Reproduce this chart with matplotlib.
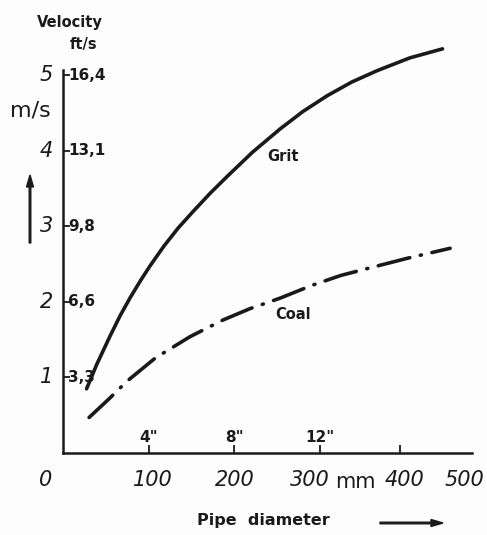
import matplotlib
matplotlib.use("Agg")
import matplotlib.pyplot as plt
from matplotlib.transforms import blended_transform_factory

# pipe diameter (mm) and velocity (m/s)
grit_d = [28, 40, 56, 68, 80, 92, 103, 120, 137, 154, 175, 195, 225, 258, 285, 314, 343, 373, 412, 451]
grit_v = [0.85, 1.17, 1.55, 1.82, 2.06, 2.28, 2.47, 2.74, 2.98, 3.19, 3.44, 3.66, 3.98, 4.29, 4.52, 4.73, 4.91, 5.06, 5.23, 5.35]
coal_d = [31, 55, 76, 110, 151, 190, 222, 258, 296, 330, 368, 410, 460]
coal_v = [0.47, 0.72, 0.95, 1.26, 1.54, 1.76, 1.91, 2.05, 2.22, 2.35, 2.46, 2.58, 2.71]

ms_ticks = [1, 2, 3, 4, 5]
fts_labels = ["3,3", "6,6", "9,8", "13,1", "16,4"]
inch_pos = [101.6, 203.2, 304.8]
inch_labels = ['4"', '8"', '12"']
mm_pos = [-21, 107, 204, 293, 406, 477]
mm_labels = ["0", "100", "200", "300", "400", "500"]

hand = ["Liberation Sans Narrow", "DejaVu Sans"]
ink = "#1a1a1a"

fig = plt.figure(figsize=(4.87, 5.35), dpi=100, facecolor="#fdfdfd")
ax = fig.add_axes([63 / 487, 1 - 453 / 535, (472 - 63) / 487, (453 - 70) / 535])
ax.set_facecolor("#fdfdfd")
ax.set_xlim(0, 486)
ax.set_ylim(0, 5.07)

ax.plot(grit_d, grit_v, color=ink, lw=2.6, solid_capstyle="round", clip_on=False)
ax.plot(coal_d, coal_v, color=ink, lw=2.6, dashes=(9.0, 3.0, 0.3, 3.0),
        dash_capstyle="round", clip_on=False)

for s in ["top", "right"]:
    ax.spines[s].set_visible(False)
for s in ["left", "bottom"]:
    ax.spines[s].set_linewidth(1.8)
    ax.spines[s].set_color(ink)

ax.set_yticks(ms_ticks)
ax.set_yticklabels([])
ax.tick_params(axis="y", direction="in", length=5, width=1.3, color=ink)
ax.set_xticks(inch_pos + [400])
ax.set_xticklabels([])
ax.tick_params(axis="x", direction="in", length=6, width=1.3, color=ink)

ty = blended_transform_factory(ax.transAxes, ax.transData)
for v, lab in zip(ms_ticks, fts_labels):
    ax.text(0.012, v, lab, transform=ty, ha="left", va="center",
            fontsize=11, fontweight="bold", color=ink)
    ax.text(-0.025, v, str(v), transform=ty, ha="right", va="center",
            fontsize=15, style="italic", family=hand, color=ink)

tx = blended_transform_factory(ax.transData, ax.transAxes)
for d, lab in zip(inch_pos, inch_labels):
    ax.text(d, 0.022, lab, transform=tx, ha="center", va="bottom",
            fontsize=11, fontweight="bold", color=ink)
for d, lab in zip(mm_pos, mm_labels):
    ax.text(d, -0.045, lab, transform=tx, ha="center", va="top",
            fontsize=15, style="italic", family=hand, color=ink)
ax.text(348, -0.05, "mm", transform=tx, ha="center", va="top",
        fontsize=15, family=hand, color=ink)

ax.text(262, 3.92, "Grit", ha="center", va="center", fontsize=10.5,
        fontweight="bold", color=ink)
ax.text(273, 1.84, "Coal", ha="center", va="center", fontsize=10.5,
        fontweight="bold", color=ink)

fig.text(70 / 487, 1 - 22 / 535, "Velocity", ha="center", va="center",
         fontsize=10.5, fontweight="bold", color=ink)
fig.text(84 / 487, 1 - 45 / 535, "ft/s", ha="center", va="center",
         fontsize=10.5, fontweight="bold", color=ink)
fig.text(30 / 487, 1 - 110 / 535, "m/s", ha="center", va="center",
         fontsize=16, family=hand, color=ink)
fig.text(263 / 487, 1 - 521 / 535, "Pipe  diameter", ha="center", va="center",
         fontsize=11.5, fontweight="bold", color=ink)

fig.patches.append(matplotlib.patches.FancyArrow(
    30 / 487, 1 - 243 / 535, 0, 68 / 535, width=1.6 / 487, head_width=7 / 487,
    head_length=12 / 535, length_includes_head=True, color=ink,
    transform=fig.transFigure))
fig.patches.append(matplotlib.patches.FancyArrow(
    380 / 487, 1 - 523 / 535, 63 / 487, 0, width=1.6 / 535, head_width=7 / 535,
    head_length=12 / 487, length_includes_head=True, color=ink,
    transform=fig.transFigure))

fig.savefig("out.png", dpi=100, facecolor=fig.get_facecolor())
